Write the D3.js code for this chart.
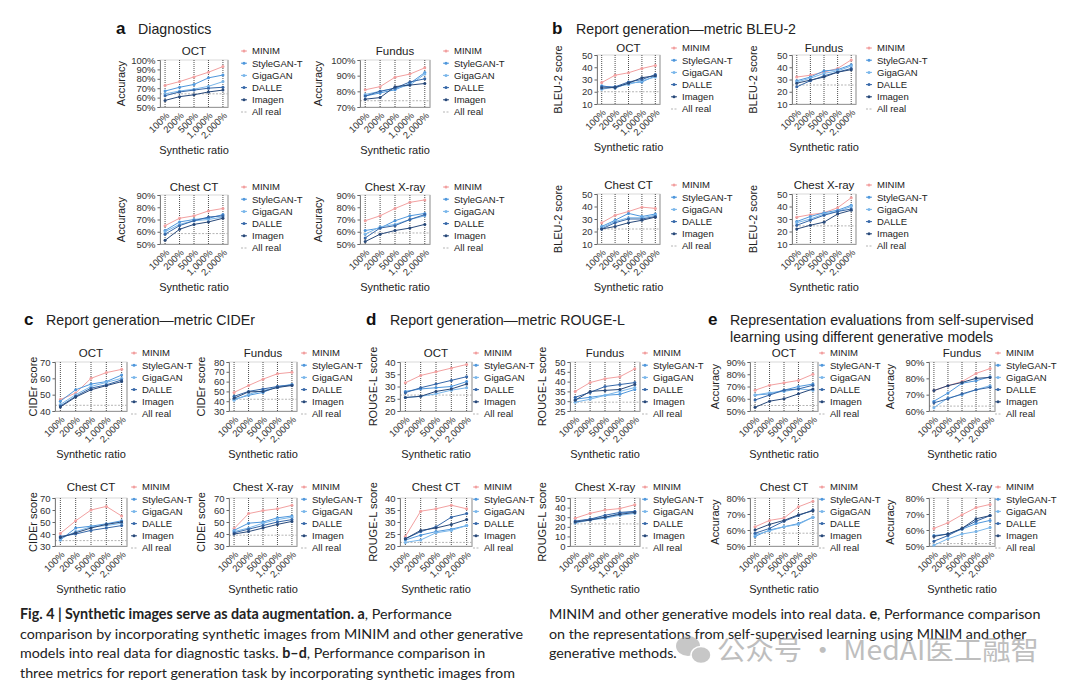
<!DOCTYPE html>
<html>
<head>
<meta charset="utf-8">
<script src="https://cdn.jsdelivr.net/npm/d3@7"></script>
<style>
  body { margin: 0; background: #fff; }
  text { font-family: "Liberation Sans", Arial, sans-serif; }
</style>
</head>
<body>
<script>
const ratios = ["100%", "200%", "500%", "1,000%", "2,000%"];
const models = ["MINIM", "StyleGAN-T", "GigaGAN", "DALLE", "Imagen"];
const modalities = ["OCT", "Fundus", "Chest CT", "Chest X-ray"];

// a - diagnostics, accuracy (%)
const aOCT = [[73,77,82,87,93],[67,71,74,81,84],[64,67,69,72,77],[62,66,68,70,71],[57,61,63,66,68]];
const aFundus = [[81,83,89,91,95],[77,79,81,85,92],[78,80,82,84,91],[77,80,82,86,88],[75,76,83,84,85]];
const aChestCT = [[65,71,73,77,79],[61,68,70,71,74],[60,66,69,70,72],[58,65,69,72,73],[53,62,66,68,71]];
const aChestXray = [[69,73,79,84,86],[61,63,69,73,75],[58,64,66,70,73],[55,63,65,70,74],[52,58,61,63,66]];
const aAllReal = [64, 74, 58.5, 59];
const aTicks = [[50,60,70,80,90,100],[70,80,90,100],[50,60,70,80,90],[50,60,70,80,90]];

// b - BLEU-2 score
const bOCT = [[27.5,33.5,35.5,39,41.5],[25,23,27,28,33],[22,24,26,29,32],[24,24,28,30,34],[23,23.5,27,31.5,33]];
const bFundus = [[32,33.5,36,39,46],[29,32,37,38,42],[28,31,35,37,41],[24,29,33,36,39],[27,29.5,32,36,38]];
const bChestCT = [[27,33,36,39.5,38.5],[24,29,34.5,32,34],[23,28,31,31,33],[22,27,30,30,32],[22,24,27,29,31.5]];
const bChestXray = [[31.5,33.5,35,39,47],[28,32,35,37,41],[27,30,34,36,40],[25,29,33,36,38],[22,25,27.5,34,37]];
const bAllReal = [20, 25.5, 22, 24.5];
const bTicks = [[10,20,30,40,50],[10,20,30,40,50],[10,20,30,40,50],[10,20,30,40,50]];

// c - CIDEr score
const cOCT = [[47,51,60,63.5,65.5],[46,53,56.5,58,62],[44,50,55,57.5,60],[43,49,54,56,59],[42.5,48.5,53,55.5,58]];
const cFundus = [[49,56,62.5,68,69.5],[42,46,49,55,57],[41,47,51,54,57],[45,50,52.5,55,56.5],[43,49.5,50,54,56]];
const cChestCT = [[40.5,51,60,63,55],[35,45,46.5,48.5,51],[36,42,46,47,49],[38,40,43,45,47],[37,41,45,48,50]];
const cChestXray = [[44.5,57,59.5,61,64],[43,49,50,53.5,55],[42,45,49,52,54],[41,44,47,50,52],[40,42,45,48,50.5]];
const cAllReal = [43.5, 42, 34.5, 39];
const cTicks = [[40,50,60,70],[30,40,50,60,70,80],[30,40,50,60,70],[30,40,50,60,70]];

// d - ROUGE-L score
const dOCT = [[31.5,34.5,36,37.5,39],[28,29,29.5,30,32],[25.5,26,27,28.5,29.5],[27.5,29.5,31,32.5,34],[25.5,26,28,29,31]];
const dFundus = [[35,39.5,41.5,42.5,46.5],[31,32,33,33.5,36],[29.5,31,33,35,37],[32,34.5,37.5,38.5,39.5],[30.5,35,35.5,36,38.5]];
const dChestCT = [[24,34.5,35.5,37,35.5],[22.5,24.5,26,27,28.5],[21.5,22.5,25.5,26.5,28.5],[23,26,28,32,33.5],[23,26.5,27.5,29,31]];
const dChestXray = [[29,34,37.5,39,43],[25,28,30,34,36],[24,27,29,32,34],[26,28,32,35,36],[25,27,30,33,35]];
const dAllReal = [26.5, 29.5, 21.5, 23];
const dTicks = [[20,25,30,35,40],[25,30,35,40,45,50],[20,25,30,35,40],[0,10,20,30,40,50]];

// e - self-supervised representations, accuracy (%)
const eOCT = [[67,71,73,75,80],[63,64,67,70,72],[63,65,66,68,67],[59,63,67,68,71],[53,58,60,64,68]];
const eFundus = [[72.5,75.5,78,83,86],[66,71,77,78.5,81],[62,68,70,73,75.5],[65,67.5,70.5,73,74.5],[72.5,75.5,77.5,80,80.5]];
const eChestCT = [[62,66,67.5,74.5,78],[56,60,62,64,68],[57,59.5,62,63.5,68],[58,61,65.5,69,72.5],[60,63.5,66,69.5,72]];
const eChestXray = [[61,64.5,69.5,74,76],[56.5,57.5,60.5,64,66],[50.5,54.5,57.5,59,61.5],[53,56.5,61,65.5,69],[56,57.5,61,67,69]];
const eAllReal = [54.5, 63, 58, 51.5];
const eTicks = [[50,60,70,80,90],[60,70,80,90],[50,60,70,80],[50,60,70,80]];

const colors = ["#f2a0a0", "#4f97dc", "#79b6ea", "#3567a8", "#28497a"];
const realColor = "#b5b5b5";

const rowsABTop = [{ y0: 60, y1: 107, leg: 51 }, { y0: 195, y1: 244, leg: 187 }];
const rowsBTop = [{ y0: 55, y1: 104, leg: 48 }, { y0: 194, y1: 244, leg: 185 }];
const rowsCDE = [{ y0: 362, y1: 411, leg: 353 }, { y0: 498, y1: 546, leg: 487 }];

const sections = [
  { key: "a", title: ["Diagnostics"], head: { x: 116, tx: 138, y: 34 }, ylab: "Accuracy", pct: true,
    series: [aOCT, aFundus, aChestCT, aChestXray], real: aAllReal, ticks: aTicks,
    cols: [{ x0: 160, x1: 228, ylab: 121, leg: 252 }, { x0: 360, x1: 430, ylab: 318, leg: 454 }], rows: rowsABTop },
  { key: "b", title: ["Report generation\u2014metric BLEU-2"], head: { x: 552, tx: 576, y: 34 }, ylab: "BLEU-2 score", pct: false,
    series: [bOCT, bFundus, bChestCT, bChestXray], real: bAllReal, ticks: bTicks,
    cols: [{ x0: 597, x1: 660, ylab: 558, leg: 682 }, { x0: 792, x1: 856, ylab: 753, leg: 877 }], rows: rowsBTop },
  { key: "c", title: ["Report generation\u2014metric CIDEr"], head: { x: 24, tx: 46, y: 325 }, ylab: "CIDEr score", pct: false,
    series: [cOCT, cFundus, cChestCT, cChestXray], real: cAllReal, ticks: cTicks,
    cols: [{ x0: 55, x1: 127, ylab: 33, leg: 142 }, { x0: 229, x1: 297, ylab: 201, leg: 312 }], rows: rowsCDE },
  { key: "d", title: ["Report generation\u2014metric ROUGE-L"], head: { x: 366, tx: 390, y: 325 }, ylab: "ROUGE-L score", pct: false,
    series: [dOCT, dFundus, dChestCT, dChestXray], real: dAllReal, ticks: dTicks,
    cols: [{ x0: 400, x1: 472, ylab: 373, leg: 484 }, { x0: 570, x1: 640, ylab: 542, leg: 653 }], rows: rowsCDE },
  { key: "e", title: ["Representation evaluations from self-supervised", "learning using different generative models"],
    head: { x: 708, tx: 730, y: 325 }, ylab: "Accuracy", pct: true,
    series: [eOCT, eFundus, eChestCT, eChestXray], real: eAllReal, ticks: eTicks,
    cols: [{ x0: 750, x1: 818, ylab: 715, leg: 830 }, { x0: 929, x1: 995, ylab: 890, leg: 1006 }], rows: rowsCDE }
];

const svg = d3.select("body").append("svg").attr("width", 1080).attr("height", 693);
svg.append("rect").attr("width", 1080).attr("height", 693).attr("fill", "#fff");

function drawPanel(sec, ci, ri) {
  const k = ri * 2 + ci;
  const col = sec.cols[ci], row = sec.rows[ri];
  const vals = sec.series[k];
  const ticks = sec.ticks[k];
  const g = svg.append("g");

  const x = d3.scalePoint().domain(ratios).range([col.x0, col.x1]).padding(0.35);
  const y = d3.scaleLinear().domain(d3.extent(ticks)).range([row.y1, row.y0]);

  // frame, thick grey right edge
  g.append("rect").attr("x", col.x0).attr("y", row.y0)
    .attr("width", col.x1 - col.x0).attr("height", row.y1 - row.y0)
    .attr("fill", "none").attr("stroke", "#cfcfcf").attr("stroke-width", 0.8);
  g.append("line").attr("x1", col.x1).attr("x2", col.x1).attr("y1", row.y0).attr("y2", row.y1)
    .attr("stroke", "#c4c4c4").attr("stroke-width", 2);

  // dotted verticals at each ratio
  g.selectAll(".vg").data(ratios).enter().append("line")
    .attr("x1", d => x(d)).attr("x2", d => x(d)).attr("y1", row.y0).attr("y2", row.y1)
    .attr("stroke", "#222").attr("stroke-width", 0.8).attr("stroke-dasharray", "1,1");

  // all real baseline
  g.append("line").attr("x1", col.x0).attr("x2", col.x1)
    .attr("y1", y(sec.real[k])).attr("y2", y(sec.real[k]))
    .attr("stroke", realColor).attr("stroke-width", 1).attr("stroke-dasharray", "2,1.5");

  // axes
  const fmt = sec.pct ? (d => d + "%") : (d => d);
  const ya = g.append("g").attr("transform", `translate(${col.x0},0)`)
    .call(d3.axisLeft(y).tickValues(ticks).tickFormat(fmt).tickSize(2.5).tickPadding(2));
  ya.select(".domain").attr("stroke", "#666").attr("stroke-width", 0.8);
  ya.selectAll(".tick line").attr("stroke", "#666");
  ya.selectAll("text").attr("font-size", 9.5).attr("fill", "#333").attr("font-family", "Liberation Sans, Arial, sans-serif");

  const xa = g.append("g").attr("transform", `translate(0,${row.y1})`)
    .call(d3.axisBottom(x).tickSize(0));
  xa.select(".domain").attr("stroke", "#888").attr("stroke-width", 0.8);
  xa.selectAll("text")
    .attr("y", null).attr("dy", "0.35em")
    .attr("transform", "translate(2,7) rotate(-45)")
    .attr("text-anchor", "end")
    .attr("font-size", 9.5).attr("fill", "#333").attr("font-family", "Liberation Sans, Arial, sans-serif");

  // series
  const line = d3.line().x((d, i) => x(ratios[i])).y(d => y(d));
  vals.forEach((s, m) => {
    g.append("path").datum(s).attr("d", line)
      .attr("fill", "none").attr("stroke", colors[m]).attr("stroke-width", 1);
    g.selectAll(".pt" + m).data(s).enter().append("circle")
      .attr("cx", (d, i) => x(ratios[i])).attr("cy", d => y(d)).attr("r", 1.5)
      .attr("fill", colors[m]);
  });

  // title and axis labels
  g.append("text").attr("x", (col.x0 + col.x1) / 2).attr("y", row.leg + 4)
    .attr("text-anchor", "middle").attr("font-size", 11.5).attr("fill", "#222").text(modalities[k]);
  g.append("text").attr("transform", `translate(${col.ylab},${(row.y0 + row.y1) / 2}) rotate(-90)`)
    .attr("text-anchor", "middle").attr("dy", "0.35em")
    .attr("font-size", 11).attr("fill", "#222").text(sec.ylab);
  g.append("text").attr("x", (col.x0 + col.x1) / 2).attr("y", row.y1 + 47)
    .attr("text-anchor", "middle").attr("font-size", 11).attr("fill", "#222").text("Synthetic ratio");

  // legend
  const lg = g.append("g");
  models.concat(["All real"]).forEach((name, i) => {
    const ly = row.leg + i * 12.2;
    const isReal = i === models.length;
    lg.append("line").attr("x1", col.leg - 11).attr("x2", col.leg - 5).attr("y1", ly).attr("y2", ly)
      .attr("stroke", isReal ? realColor : colors[i]).attr("stroke-width", 1)
      .attr("stroke-dasharray", isReal ? "2,1.5" : null);
    if (!isReal) lg.append("circle").attr("cx", col.leg - 8).attr("cy", ly).attr("r", 1.5).attr("fill", colors[i]);
    lg.append("text").attr("x", col.leg).attr("y", ly).attr("dy", "0.35em")
      .attr("font-size", 9.5).attr("fill", "#222").text(name);
  });
}

sections.forEach(sec => {
  svg.append("text").attr("x", sec.head.x).attr("y", sec.head.y)
    .attr("font-size", 17).attr("font-weight", 900).attr("fill", "#111").text(sec.key);
  sec.title.forEach((t, i) => {
    svg.append("text").attr("x", sec.head.tx).attr("y", sec.head.y + i * 16.5)
      .attr("font-size", 14.2).attr("fill", "#222").text(t);
  });
  [0, 1].forEach(ri => [0, 1].forEach(ci => drawPanel(sec, ci, ri)));
});

// caption
const capFont = "Lato, 'Open Sans', sans-serif";
const capLeft = [
  [["Fig. 4 | Synthetic images serve as data augmentation. a", true], [", Performance", false]],
  [["comparison by incorporating synthetic images from MINIM and other generative", false]],
  [["models into real data for diagnostic tasks. ", false], ["b\u2013d", true], [", Performance comparison in", false]],
  [["three metrics for report generation task by incorporating synthetic images from", false]]
];
const capRight = [
  [["MINIM and other generative models into real data. ", false], ["e", true], [", Performance comparison", false]],
  [["on the representations from self-supervised learning using MINIM and other", false]],
  [["generative methods.", false]]
];
function caption(lines, x0) {
  lines.forEach((parts, i) => {
    const t = svg.append("text").attr("x", x0).attr("y", 619 + i * 19.5)
      .attr("font-size", 14.3).attr("fill", "#222").style("font-family", capFont);
    parts.forEach(p => t.append("tspan").attr("font-weight", p[1] ? 700 : 400).text(p[0]));
  });
}
caption(capLeft, 20);
caption(capRight, 549);

// watermark
const wm = svg.append("g").attr("opacity", 0.55);
wm.append("ellipse").attr("cx", 688).attr("cy", 646).attr("rx", 12).attr("ry", 10).attr("fill", "#9a9a9a");
wm.append("ellipse").attr("cx", 701).attr("cy", 655).attr("rx", 10).attr("ry", 8.5).attr("fill", "#9a9a9a")
  .attr("stroke", "#fff").attr("stroke-width", 1.5);
wm.append("text").attr("x", 717).attr("y", 660).attr("font-size", 27).attr("fill", "#8a8a8a")
  .style("font-family", "'Noto Sans CJK SC', sans-serif")
  .attr("textLength", 322).attr("lengthAdjust", "spacingAndGlyphs")
  .text("公众号 · MedAI医工融智");
</script>
</body>
</html>
